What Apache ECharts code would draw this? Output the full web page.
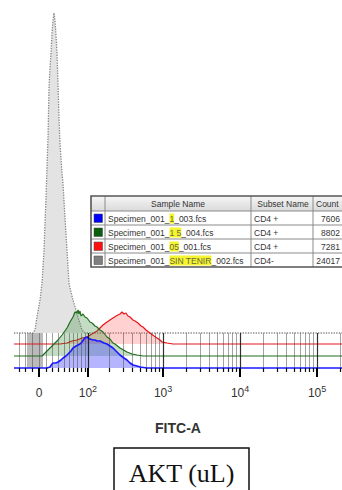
<!DOCTYPE html>
<html><head><meta charset="utf-8">
<script src="https://cdn.jsdelivr.net/npm/echarts@6/dist/echarts.min.js"></script>
<style>html,body{margin:0;padding:0;background:#fff}#c{width:342px;height:490px}</style>
</head><body><div id="c"></div>
<script>
// ---------- DATA (x = FITC-A display channel, y = event height above the layer's baseline) ----------
const grayX  = [19,21,23,26,28,29,30,31,32,33,34,35,36,37,38,39,40,41,42,43,44,45,46,47,48,49,51,53,55,56,59,64,68,71];
const grayY  = [0,3,16,33,50,66,83,110,135,166,195,245,265,280,300,312,320,312,298,280,250,215,190,175,160,150,115,83,50,45,33,16,3,0];
const greenX = [28,29,32,36,41,44,48,53,56,59,61,63,64,65,66,67,69,71,73,76,78,81,83,86,89,93,96,99,101,106,113,118,123,129];
const greenY = [0,1,4,8,13,16,21,28,34,39,44,43,46,42,45,40,42,39,38,34,33,30,29,26,24,19,17,13,12,8,4,2,1,0];
const redX   = [46,53,58,63,68,73,78,83,86,89,93,96,99,102,104,106,108,110,112,114,116,119,121,124,127,129,132,136,140,143,146,148,153,159];
const redY   = [0,1,3,4,6,7,10,13,16,19,22,24,26,28,29,30,32,30,31,28,27,24,23,21,18,17,14,11,8,6,4,2,1,0];
const blueX  = [33,36,38,39,42,44,47,49,52,54,57,59,62,64,66,68,70,71,73,74,76,79,81,83,86,88,90,93,96,99,101,103,106,110,113,116,119,123,126,133];
const blueY  = [0,1,4,5,5,6,8,10,12,14,17,20,22,23,24,26,29,30,31,30,29,28,28,27,27,26,25,24,22,20,18,16,13,10,8,5,3,2,1,0];
const grayZeroBin = [13, 29];          // gray block around 0 (channels)

const majorTickRaw    = [0, 100, 1000, 10000, 100000];
const majorTickLabels = ['0', '10^2', '10^3', '10^4', '10^5'];
const minorTickRaw    = [-30,-20,-10,10,20,30,40,50,60,70,80,90,
  200,300,400,500,600,700,800,900,2000,3000,4000,5000,6000,7000,8000,9000,
  20000,30000,40000,50000,60000,70000,80000,90000,200000];

const legendSamples    = ['Specimen_001_1_003.fcs','Specimen_001_1 5_004.fcs','Specimen_001_05_001.fcs','Specimen_001_SIN TENIR_002.fcs'];
const legendHighlights = ['1','1 5','05','SIN TENIR'];
const legendSubsets    = ['CD4 +','CD4 +','CD4 +','CD4-'];
const legendCounts     = ['7606','8802','7281','24017'];
const legendHeaders    = ['Sample Name','Subset Name','Count'];
const axisTitle  = 'FITC-A';
const panelLabel = 'AKT (uL)';

// ---------- LAYOUT / STYLE ----------
const CH_MAX = 328, Y_MAX = 355;
const offsets = {gray: 35, red: 24, green: 12, blue: 0};
const legendColors = ['#0000ff', '#0b5e0b', '#ff1010', '#808080'];
const FONT = 'Liberation Sans, Arial, sans-serif';

// biexponential display transform: raw intensity -> display channel
function biex(v) { return 72 + ((1.39 + Math.asinh(v / 49) / Math.LN10) - 2) * 77; }
const majorCh = majorTickRaw.map(biex);
const minorCh = minorTickRaw.map(biex);
const allCh = majorCh.concat(minorCh);

function labelFor(v) {
  let best = 0;
  majorCh.forEach((c, i) => { if (Math.abs(c - v) < Math.abs(majorCh[best] - v)) best = i; });
  const t = majorTickLabels[best];
  if (t.indexOf('^') >= 0) { const p = t.split('^'); return '{b|' + p[0] + '}{s|' + p[1] + '}'; }
  return '{b|' + t + '}';
}

function mk(name, xs, ys, off, line, fill, dotted, z, extra) {
  const data = [[0, off]].concat(xs.map((x, i) => [x, off + ys[i]])).concat([[CH_MAX, off]]);
  return Object.assign({
    type: 'line', name, data, symbol: 'none', clip: false, z,
    lineStyle: {color: line, width: dotted ? 1.3 : 1.2, type: dotted ? 'dotted' : 'solid'},
    areaStyle: {color: fill, origin: off, opacity: 1},
    silent: true
  }, extra || {});
}

function tickAxis(values, opts) {
  return Object.assign({
    type: 'value', min: 0, max: CH_MAX, position: 'bottom', gridIndex: 0,
    axisLine: {show: false, onZero: false}, axisLabel: {show: false}, splitLine: {show: false}
  }, opts, {axisTick: Object.assign({show: true, customValues: values}, opts.axisTick)});
}

// ---------- LEGEND TABLE (graphic) ----------
const T = {x: 91, y: 196, w: 256, hh: 15, rh: 14, cols: [105, 251, 313]};
const tH = T.hh + T.rh * legendSamples.length;
const g = [];
g.push({type: 'rect', shape: {x: T.x, y: T.y, width: T.w, height: tH}, style: {fill: '#fff', stroke: 'none'}, z: 10});
g.push({type: 'rect', shape: {x: T.x, y: T.y, width: T.w, height: T.hh},
  style: {fill: new echarts.graphic.LinearGradient(0, 0, 0, 1, [{offset: 0, color: '#f6f6f6'}, {offset: 1, color: '#dadada'}])}, z: 10});
for (let i = 0; i < legendSamples.length; i++) {
  const yy = T.y + T.hh + T.rh * i;
  g.push({type: 'line', shape: {x1: T.x, y1: yy, x2: T.x + T.w, y2: yy}, style: {stroke: '#8a8a8a', lineWidth: 1}, z: 11});
}
T.cols.forEach(cx => g.push({type: 'line', shape: {x1: cx, y1: T.y, x2: cx, y2: T.y + tH}, style: {stroke: '#8a8a8a', lineWidth: 1}, z: 11}));
g.push({type: 'rect', shape: {x: T.x, y: T.y, width: T.w, height: tH}, style: {fill: 'none', stroke: '#555', lineWidth: 1.6}, z: 12});
const hy = T.y + T.hh / 2 + 0.5;
g.push({type: 'text', x: (T.cols[0] + T.cols[1]) / 2, y: hy, style: {text: legendHeaders[0], fill: '#333', font: '8.5px ' + FONT, align: 'center', verticalAlign: 'middle'}, z: 13});
g.push({type: 'text', x: (T.cols[1] + T.cols[2]) / 2 + 1, y: hy, style: {text: legendHeaders[1], fill: '#333', font: '8.5px ' + FONT, align: 'center', verticalAlign: 'middle'}, z: 13});
g.push({type: 'text', x: T.cols[2] + 3, y: hy, style: {text: legendHeaders[2], fill: '#333', font: '8.5px ' + FONT, align: 'left', verticalAlign: 'middle'}, z: 13});
legendSamples.forEach((s, i) => {
  const top = T.y + T.hh + T.rh * i, cy = top + T.rh / 2 + 0.5;
  g.push({type: 'rect', shape: {x: T.x + 3, y: top + 3, width: 8.5, height: 8.5}, style: {fill: legendColors[i], stroke: '#444', lineWidth: 0.5}, z: 13});
  const h = legendHighlights[i], pre = 'Specimen_001_', k = s.indexOf(h, pre.length);
  const rich = '{t|' + s.slice(0, k) + '}{h|' + h + '}{t|' + s.slice(k + h.length) + '}';
  g.push({type: 'text', x: T.cols[0] + 3, y: cy, style: {text: rich, verticalAlign: 'middle', align: 'left',
    rich: {t: {fontSize: 8.5, fontFamily: FONT, fill: '#333'}, h: {fontSize: 8.5, fontFamily: FONT, fill: '#6b6b3a', backgroundColor: '#f4f430', padding: [1, 0, 0, 0]}}}, z: 13});
  g.push({type: 'text', x: T.cols[1] + 3, y: cy, style: {text: legendSubsets[i], fill: '#333', font: '8.5px ' + FONT, align: 'left', verticalAlign: 'middle'}, z: 13});
  g.push({type: 'text', x: 340, y: cy, style: {text: legendCounts[i], fill: '#333', font: '8.5px ' + FONT, align: 'right', verticalAlign: 'middle'}, z: 13});
});
// panel label box
g.push({type: 'rect', shape: {x: 114, y: 448, width: 135, height: 60}, style: {fill: 'none', stroke: '#111', lineWidth: 1.5}, z: 10});
g.push({type: 'text', x: 181.5, y: 473, style: {text: panelLabel, fill: '#111', font: '26px Liberation Serif, Times New Roman, serif', align: 'center', verticalAlign: 'middle'}, z: 10});

// ---------- CHART ----------
const chart = echarts.init(document.getElementById('c'), null, {renderer: 'svg'});
chart.setOption({
  animation: false,
  backgroundColor: '#fff',
  grid: {left: 14, right: 0, top: 13, bottom: 122, outerBoundsMode: 'none', containLabel: false},
  xAxis: [
    {type: 'value', min: 0, max: CH_MAX, position: 'bottom', axisLine: {show: false, onZero: false},
     axisTick: {show: false}, splitLine: {show: false},
     axisLabel: {customValues: majorCh, margin: 16, formatter: labelFor, color: '#333',
       rich: {b: {fontSize: 12, fontFamily: FONT, color: '#333', lineHeight: 14, padding: [3, 0, 0, 0]},
              s: {fontSize: 9, fontFamily: FONT, color: '#333', lineHeight: 10, verticalAlign: 'top'}}},
     name: axisTitle, nameLocation: 'middle', nameGap: 53,
     nameTextStyle: {fontSize: 14, fontWeight: 'bold', fontFamily: FONT, color: '#333'}},
    tickAxis(allCh,   {z: 5, axisTick: {inside: true, length: 35, lineStyle: {color: 'rgba(70,70,70,0.5)', width: 1}}}),
    tickAxis(majorCh.slice(1), {z: 6, axisTick: {inside: true, length: 35, lineStyle: {color: 'rgba(20,20,20,0.8)', width: 1.2}}}),
    tickAxis(minorCh, {z: 6, axisTick: {inside: false, length: 4, lineStyle: {color: '#111', width: 1.2}}}),
    tickAxis(majorCh, {z: 6, axisTick: {inside: false, length: 9, lineStyle: {color: '#000', width: 2}}})
  ],
  yAxis: {type: 'value', min: 0, max: Y_MAX, show: false},
  series: [
    mk('SIN TENIR', grayX, grayY, offsets.gray, '#858585', 'rgba(224,224,224,0.9)', true, 2,
      {markArea: {silent: true, itemStyle: {color: 'rgba(130,130,130,0.55)'},
        data: [[{xAxis: grayZeroBin[0], yAxis: offsets.blue}, {xAxis: grayZeroBin[1], yAxis: offsets.gray}]]}}),
    mk('05', redX, redY, offsets.red, '#e8141a', 'rgba(255,70,70,0.25)', false, 3),
    mk('1 5', greenX, greenY, offsets.green, '#1d6e1d', 'rgba(40,130,40,0.28)', false, 4),
    mk('1', blueX, blueY, offsets.blue, '#1818ff', 'rgba(70,70,255,0.40)', false, 5, {lineStyle: {color: '#1818ff', width: 1.6}})
  ],
  graphic: g
});
</script>
</body></html>
